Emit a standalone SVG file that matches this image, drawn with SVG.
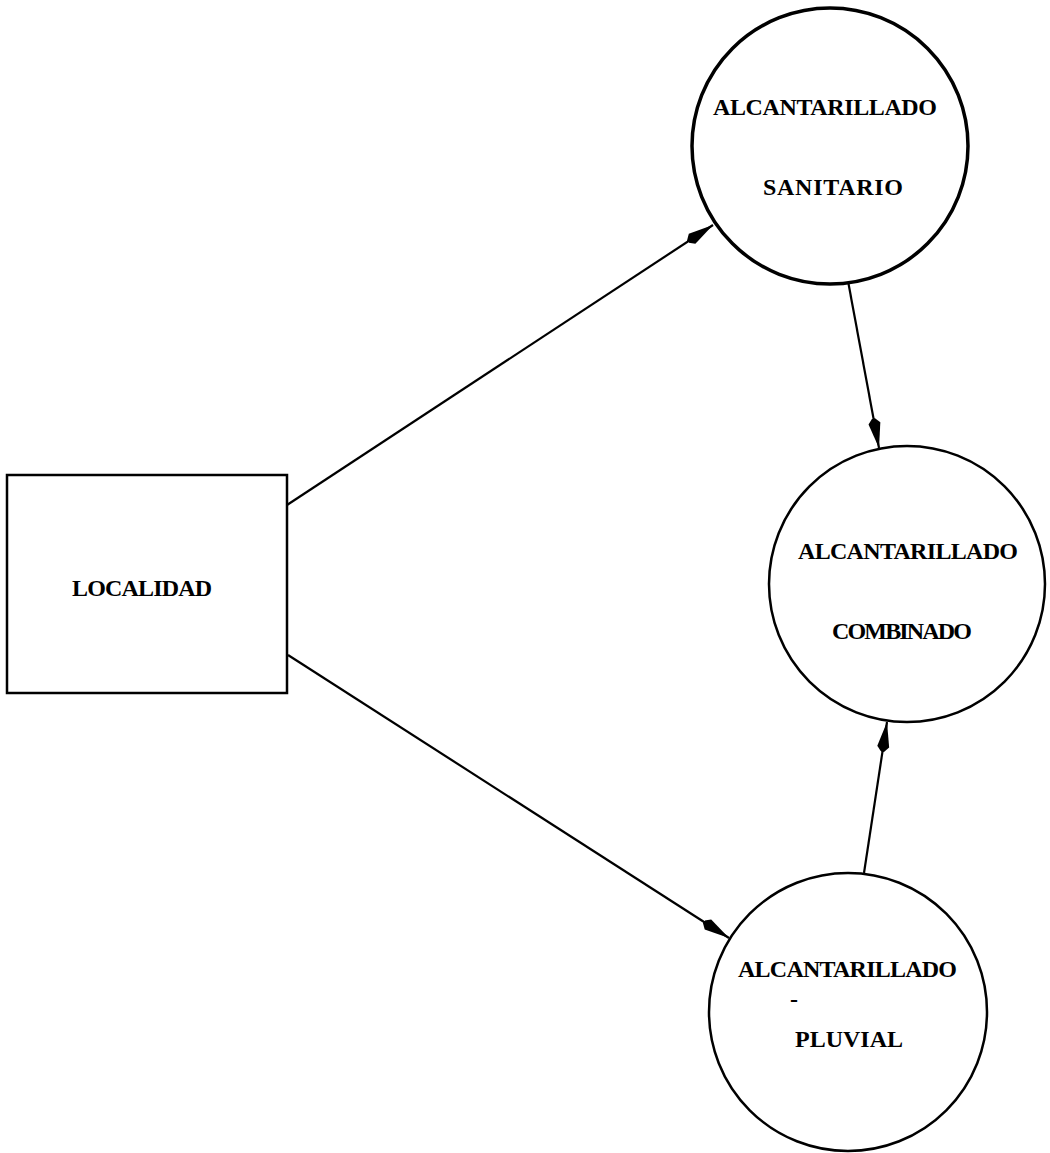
<svg xmlns="http://www.w3.org/2000/svg" width="1050" height="1153" viewBox="0 0 1050 1153">
  <style>
    .shape { fill: #ffffff; stroke: #000000; stroke-width: 2.5; }
    .thick { stroke-width: 3.5; }
    .label { font-family: "Liberation Serif", "Times New Roman", serif; font-weight: bold; font-size: 24px; fill: #000000; }
    .edge { stroke: #000000; stroke-width: 2.2; fill: none; }
  </style>
  <defs>
    <marker id="arrow" markerUnits="userSpaceOnUse" markerWidth="32" markerHeight="14" viewBox="0 -7 32 14" refX="30" refY="0" orient="auto">
      <path d="M0,-1.5 L5,-6 L30,0 L5,6 L0,1.5 z" fill="#000000"/>
    </marker>
  </defs>
  <rect width="1050" height="1153" fill="#ffffff"/>

  <!-- flows between the source and the sewer systems -->
  <g id="connectors">
    <line class="edge" x1="287" y1="505" x2="713" y2="225" marker-end="url(#arrow)"/>
    <line class="edge" x1="288" y1="655" x2="729" y2="938" marker-end="url(#arrow)"/>
    <line class="edge" x1="848" y1="281" x2="879" y2="448" marker-end="url(#arrow)"/>
    <line class="edge" x1="864" y1="873" x2="887" y2="722" marker-end="url(#arrow)"/>
  </g>

  <g id="localidad">
    <rect class="shape" x="7" y="475" width="280" height="218"/>
    <text class="label" x="72" y="596" textLength="140" lengthAdjust="spacing">LOCALIDAD</text>
  </g>

  <g id="sanitario">
    <circle class="shape thick" cx="830" cy="146" r="138"/>
    <text class="label" x="713" y="115" textLength="224" lengthAdjust="spacing">ALCANTARILLADO</text>
    <text class="label" x="763" y="195" textLength="140" lengthAdjust="spacing">SANITARIO</text>
  </g>

  <g id="combinado">
    <circle class="shape" cx="907" cy="584" r="138"/>
    <text class="label" x="798" y="559" textLength="220" lengthAdjust="spacing">ALCANTARILLADO</text>
    <text class="label" x="832" y="639" textLength="140" lengthAdjust="spacing">COMBINADO</text>
  </g>

  <g id="pluvial">
    <circle class="shape" cx="848" cy="1012" r="139"/>
    <text class="label" x="738" y="977" textLength="219" lengthAdjust="spacing">ALCANTARILLADO</text>
    <text class="label" x="790" y="1007">-</text>
    <text class="label" x="795" y="1047" textLength="108" lengthAdjust="spacing">PLUVIAL</text>
  </g>
</svg>
